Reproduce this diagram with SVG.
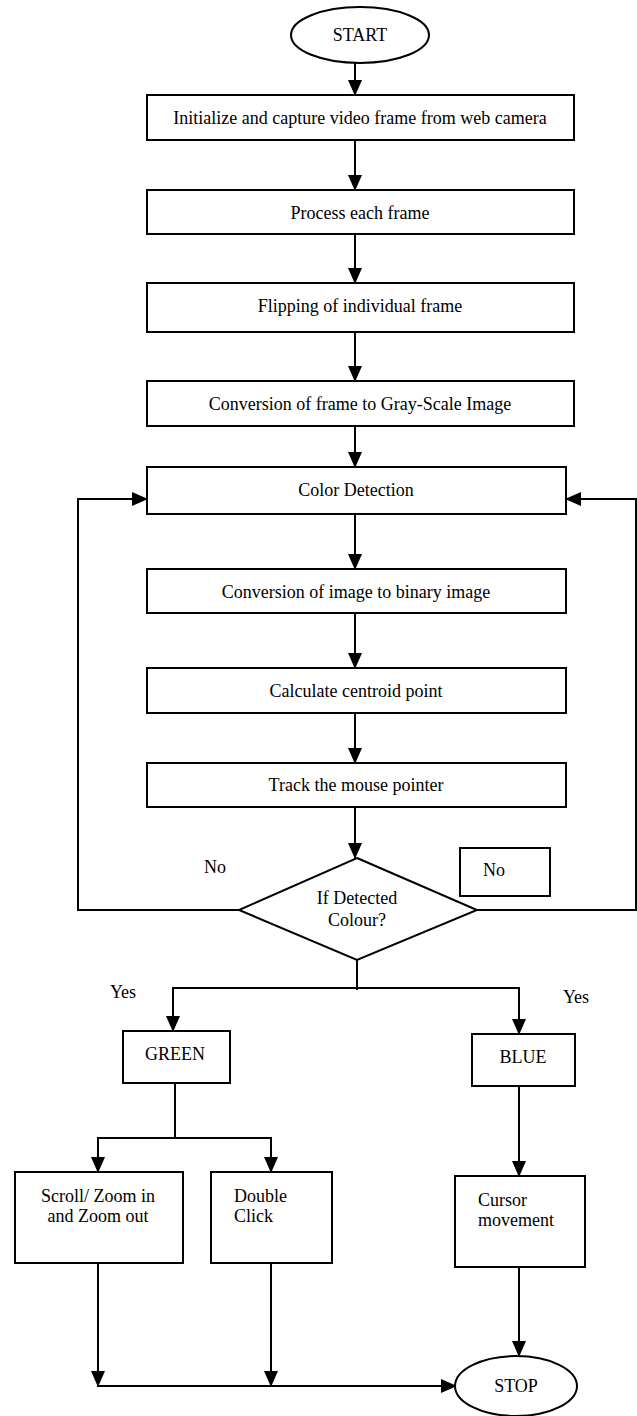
<svg xmlns="http://www.w3.org/2000/svg" width="637" height="1416" viewBox="0 0 637 1416">
<style>
.n{fill:#fff;stroke:#000;stroke-width:2}
.t{font-family:"Liberation Serif","Times New Roman",serif;font-size:18px;fill:#000;text-anchor:middle}
.l{text-anchor:start}
.c{fill:none;stroke:#000;stroke-width:2}
</style>
<defs>
<marker id="a" markerUnits="userSpaceOnUse" markerWidth="16" markerHeight="14" refX="15" refY="7" orient="auto">
<path d="M0,0 L16,7 L0,14 Z" fill="#000"/>
</marker>
</defs>
<rect width="637" height="1416" fill="#fff"/>
<g id="connectors">
<line class="c" x1="355" y1="63" x2="355" y2="95" marker-end="url(#a)"/>
<line class="c" x1="355" y1="140" x2="355" y2="190" marker-end="url(#a)"/>
<line class="c" x1="355" y1="234" x2="355" y2="283" marker-end="url(#a)"/>
<line class="c" x1="355" y1="332" x2="355" y2="381" marker-end="url(#a)"/>
<line class="c" x1="355" y1="426" x2="355" y2="467" marker-end="url(#a)"/>
<line class="c" x1="355" y1="514" x2="355" y2="569" marker-end="url(#a)"/>
<line class="c" x1="355" y1="613" x2="355" y2="668" marker-end="url(#a)"/>
<line class="c" x1="355" y1="713" x2="355" y2="763" marker-end="url(#a)"/>
<line class="c" x1="355" y1="807" x2="355" y2="858" marker-end="url(#a)"/>
<polyline class="c" points="239,910 78,910 78,499 147,499" marker-end="url(#a)"/>
<polyline class="c" points="477,910 636,910 636,499 566,499" marker-end="url(#a)"/>
<line class="c" x1="357" y1="960" x2="357" y2="990"/>
<line class="c" x1="173" y1="988" x2="519" y2="988"/>
<line class="c" x1="173" y1="987" x2="173" y2="1031" marker-end="url(#a)"/>
<line class="c" x1="519" y1="987" x2="519" y2="1034" marker-end="url(#a)"/>
<line class="c" x1="175" y1="1083" x2="175" y2="1138"/>
<line class="c" x1="98" y1="1138" x2="271" y2="1138"/>
<line class="c" x1="98" y1="1137" x2="98" y2="1172" marker-end="url(#a)"/>
<line class="c" x1="271" y1="1137" x2="271" y2="1172" marker-end="url(#a)"/>
<line class="c" x1="519" y1="1086" x2="519" y2="1176" marker-end="url(#a)"/>
<line class="c" x1="98" y1="1263" x2="98" y2="1386" marker-end="url(#a)"/>
<line class="c" x1="271" y1="1263" x2="271" y2="1386" marker-end="url(#a)"/>
<line class="c" x1="97" y1="1386" x2="456" y2="1386" marker-end="url(#a)"/>
<line class="c" x1="519" y1="1267" x2="519" y2="1356" marker-end="url(#a)"/>
</g>
<g id="start"><ellipse class="n" cx="360" cy="35" rx="69" ry="28"/><text class="t" x="360" y="41">START</text></g>
<g id="init"><rect class="n" x="147" y="95" width="427" height="45"/><text class="t" x="360" y="124">Initialize and capture video frame from web camera</text></g>
<g id="process"><rect class="n" x="147" y="190" width="427" height="44"/><text class="t" x="360" y="219">Process each frame</text></g>
<g id="flip"><rect class="n" x="147" y="283" width="427" height="49"/><text class="t" x="360" y="312">Flipping of individual frame</text></g>
<g id="gray"><rect class="n" x="147" y="381" width="427" height="45"/><text class="t" x="360" y="410">Conversion of frame to Gray-Scale Image</text></g>
<g id="color"><rect class="n" x="147" y="467" width="419" height="47"/><text class="t" x="356" y="496">Color Detection</text></g>
<g id="binary"><rect class="n" x="147" y="569" width="419" height="44"/><text class="t" x="356" y="598">Conversion of image to binary image</text></g>
<g id="centroid"><rect class="n" x="147" y="668" width="419" height="45"/><text class="t" x="356" y="697">Calculate centroid point</text></g>
<g id="track"><rect class="n" x="147" y="763" width="419" height="44"/><text class="t" x="356" y="791">Track the mouse pointer</text></g>
<g id="decision"><polygon class="n" points="357,858 477,910 357,960 239,910"/><text class="t" x="357" y="904">If Detected</text><text class="t" x="357" y="926">Colour?</text></g>
<g id="no-left"><text class="t" x="215" y="873">No</text></g>
<g id="no-right"><rect class="n" x="460" y="848" width="90" height="48"/><text class="t" x="494" y="876">No</text></g>
<g id="yes-left"><text class="t" x="123" y="998">Yes</text></g>
<g id="yes-right"><text class="t" x="576" y="1003">Yes</text></g>
<g id="green"><rect class="n" x="123" y="1031" width="107" height="52"/><text class="t" x="175" y="1060">GREEN</text></g>
<g id="blue"><rect class="n" x="472" y="1034" width="103" height="52"/><text class="t" x="523" y="1063">BLUE</text></g>
<g id="scroll"><rect class="n" x="15" y="1172" width="168" height="91"/><text class="t" x="98" y="1202">Scroll/ Zoom in</text><text class="t" x="98" y="1222">and Zoom out</text></g>
<g id="dblclick"><rect class="n" x="211" y="1172" width="121" height="91"/><text class="t l" x="234" y="1202">Double</text><text class="t l" x="234" y="1222">Click</text></g>
<g id="cursor"><rect class="n" x="455" y="1176" width="130" height="91"/><text class="t l" x="478" y="1206">Cursor</text><text class="t l" x="478" y="1226">movement</text></g>
<g id="stop"><ellipse class="n" cx="516" cy="1386" rx="61" ry="30"/><text class="t" x="516" y="1392">STOP</text></g>
</svg>
